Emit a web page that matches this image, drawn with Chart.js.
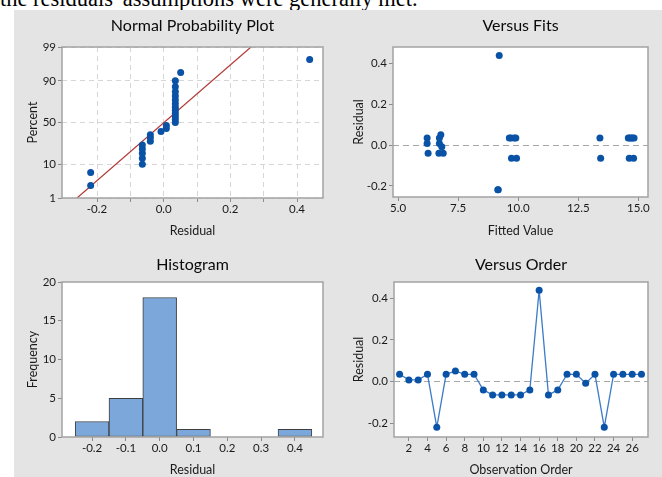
<!DOCTYPE html>
<html>
<head>
<meta charset="utf-8">
<script src="https://cdn.jsdelivr.net/npm/chart.js@4.4.1/dist/chart.umd.min.js"></script>
<style>
  html, body { margin: 0; padding: 0; background: #fff; }
  body { width: 662px; height: 477px; position: relative; overflow: hidden; }
  .caption { position: absolute; left: 0; top: -12px; font: 22.5px/22.5px "Liberation Serif", serif; color: #000; white-space: nowrap; }
  .panel { position: absolute; left: 14px; top: 10px; right: 0; bottom: 0; background: #e4e4e4; }
  canvas { position: absolute; }
</style>
</head>
<body>
<div class="caption">the residuals' assumptions were generally met.</div>
<div class="panel"></div>
<canvas id="npp" width="320" height="234" style="left:14px;top:10px"></canvas>
<canvas id="fits" width="328" height="234" style="left:334px;top:10px"></canvas>
<canvas id="hist" width="320" height="233" style="left:14px;top:244px"></canvas>
<canvas id="order" width="328" height="233" style="left:334px;top:244px"></canvas>
<script>
/* residual plots - four panels, all built from the residuals read per observation */

// residual for each observation, in observation order
const residuals = [0.035, 0.008, 0.008, 0.035, -0.219, 0.035, 0.051, 0.035, 0.035, -0.04,
  -0.064, -0.064, -0.064, -0.064, -0.04, 0.438, -0.064, -0.04, 0.035, 0.035,
  -0.008, 0.035, -0.219, 0.035, 0.035, 0.035, 0.035];
// fitted value for each observation
const fitted = [6.21, 6.21, 6.72, 6.72, 9.15, 9.63, 6.78, 9.70, 9.84, 6.25,
  9.72, 9.93, 13.43, 14.62, 6.70, 9.21, 14.80, 6.88, 9.90, 13.40,
  6.82, 14.58, 9.17, 14.64, 14.70, 14.76, 14.82];
// plotting positions (percent) of the sorted residuals
const nppPercent = [2.6, 6.2, 9.9, 13.5, 17.2, 20.8, 24.5, 28.1, 31.8, 35.4, 39.1, 42.7, 46.4, 50.0,
  53.6, 57.3, 60.9, 64.6, 68.2, 71.9, 75.5, 79.2, 82.8, 86.5, 90.1, 93.8, 97.4];
// normal reference line ends
const fitLineResid = [-0.26, 0.262];
const fitLinePercent = [1, 99];
// histogram bins
const binCenters = [-0.2, -0.1, 0.0, 0.1, 0.2, 0.3, 0.4];
const binCounts = [2, 5, 18, 1, 0, 0, 1];

// ticks
const nppXTicks = [-0.2, -0.1, 0.0, 0.1, 0.2, 0.3, 0.4];
const nppXLabels = ["-0.2", "", "0.0", "", "0.2", "", "0.4"];
const nppYTicks = [1, 10, 50, 90, 99];
const residTicks = [-0.2, 0.0, 0.2, 0.4];
const fitsXTicks = [5, 7.5, 10, 12.5, 15];
const histXTicks = [-0.2, -0.1, 0.0, 0.1, 0.2, 0.3, 0.4];
const histYTicks = [0, 5, 10, 15, 20];
const orderXTicks = [2, 4, 6, 8, 10, 12, 14, 16, 18, 20, 22, 24, 26];

const BLUE = "#0a52a5";
const FONT = "Lato";

Chart.defaults.font.family = FONT;
Chart.defaults.color = "#1a1a1a";
Chart.defaults.animation = false;
Chart.defaults.responsive = false;
Chart.defaults.plugins.legend.display = false;
Chart.defaults.plugins.tooltip.enabled = false;

// inverse normal cdf (Acklam) - used to put percents on the probability axis
function probit(p) {
  const a = [-39.69683028665376, 220.9460984245205, -275.9285104469687, 138.3577518672690, -30.66479806614716, 2.506628277459239];
  const b = [-54.47609879822406, 161.5858368580409, -155.6989798598866, 66.80131188771972, -13.28068155288572];
  const c = [-0.007784894002430293, -0.3223964580411365, -2.400758277161838, -2.549671010229583, 4.374664141464968, 2.938163982698783];
  const d = [0.007784695709041462, 0.3224671290700398, 2.445134137142996, 3.754408661907416];
  const lo = 0.02425;
  if (p < lo || p > 1 - lo) {
    const q = Math.sqrt(-2 * Math.log(p < lo ? p : 1 - p));
    const v = (((((c[0] * q + c[1]) * q + c[2]) * q + c[3]) * q + c[4]) * q + c[5]) / ((((d[0] * q + d[1]) * q + d[2]) * q + d[3]) * q + 1);
    return p < lo ? v : -v;
  }
  const q = p - 0.5, r = q * q;
  return (((((a[0] * r + a[1]) * r + a[2]) * r + a[3]) * r + a[4]) * r + a[5]) * q / (((((b[0] * r + b[1]) * r + b[2]) * r + b[3]) * r + b[4]) * r + 1);
}
const z = (pct) => probit(pct / 100);

// white plot area, grey frame and a centred panel title
const panel = {
  id: "panel",
  beforeDraw(chart) {
    const { ctx, chartArea: a } = chart;
    ctx.save();
    ctx.fillStyle = "#fff";
    ctx.fillRect(a.left, a.top, a.width, a.height);
    ctx.restore();
  },
  afterDraw(chart, args, opts) {
    const { ctx, chartArea: a } = chart;
    ctx.save();
    ctx.strokeStyle = "#a2a2a2";
    ctx.lineWidth = 1.5;
    ctx.strokeRect(a.left, a.top, a.width, a.height);
    ctx.fillStyle = "#0a0a0a";
    ctx.font = "16px " + FONT;
    ctx.textAlign = "center";
    ctx.textBaseline = "middle";
    ctx.fillText(opts.text, (a.left + a.right) / 2, opts.y);
    ctx.restore();
  },
};
Chart.register(panel);

function setTicks(values) {
  return (axis) => { axis.ticks = values.map((v) => ({ value: v })); };
}

function axis(opts) {
  const horiz = opts.horizontal;
  return {
    type: "linear",
    min: opts.min,
    max: opts.max,
    offset: false,
    afterBuildTicks: setTicks(opts.ticks),
    afterFit: (s) => { if (horiz) s.height = opts.size; else s.width = opts.size; },
    border: { display: false, dash: opts.dash || [] },
    grid: {
      offset: false,
      drawOnChartArea: !!opts.gridColor,
      color: opts.gridColor || "transparent",
      lineWidth: 1,
      drawTicks: true,
      tickLength: 4,
      tickColor: "#8a8a8a",
      tickBorderDash: [],
    },
    ticks: {
      autoSkip: false,
      maxRotation: 0,
      padding: horiz ? 0 : 2,
      font: { size: 11.5 },
      color: "#1a1a1a",
      callback: (v, i) => opts.labels[i],
    },
    title: {
      display: true,
      text: opts.title,
      font: { size: 12.5 },
      color: "#1a1a1a",
      padding: opts.titlePad,
    },
  };
}

const fmt1 = (arr) => arr.map((v) => v.toFixed(1));
const zeroLine = (c) => (c.tick && c.tick.value === 0 ? "#a8a8a8" : "transparent");

// --- normal probability plot
const sortedResid = residuals.slice().sort((p, q) => p - q);
new Chart(document.getElementById("npp"), {
  type: "scatter",
  data: {
    datasets: [
      {
        data: sortedResid.map((r, i) => ({ x: r, y: z(nppPercent[i]) })),
        pointRadius: 3.5,
        pointBorderWidth: 0,
        pointBackgroundColor: BLUE,
      },
      {
        type: "line",
        data: fitLineResid.map((r, i) => ({ x: r, y: z(fitLinePercent[i]) })),
        borderColor: "#b23a36",
        borderWidth: 1.2,
        pointRadius: 0,
      },
    ],
  },
  options: {
    layout: { padding: { left: 0, right: 11, top: 37, bottom: 0 } },
    plugins: { panel: { text: "Normal Probability Plot", y: 16 } },
    scales: {
      x: axis({ horizontal: true, min: -0.305, max: 0.478, ticks: nppXTicks, labels: nppXLabels, size: 46,
        gridColor: "#d6d6d6", dash: [5, 4], title: "Residual", titlePad: { top: 0, bottom: 5.5 } }),
      y: axis({ min: z(nppYTicks[0]), max: z(nppYTicks[nppYTicks.length - 1]), ticks: nppYTicks.map(z),
        labels: nppYTicks.map(String), size: 48, gridColor: "#d6d6d6", dash: [5, 4],
        title: "Percent", titlePad: { top: 11.5, bottom: 0 } }),
    },
  },
});

// --- versus fits
new Chart(document.getElementById("fits"), {
  type: "scatter",
  data: {
    datasets: [{
      data: fitted.map((f, i) => ({ x: f, y: residuals[i] })),
      pointRadius: 3.5,
      pointBorderWidth: 0,
      pointBackgroundColor: BLUE,
    }],
  },
  options: {
    layout: { padding: { left: 0, right: 14, top: 37, bottom: 0 } },
    plugins: { panel: { text: "Versus Fits", y: 16 } },
    scales: {
      x: axis({ horizontal: true, min: 4.79, max: 15.4, ticks: fitsXTicks, labels: fmt1(fitsXTicks), size: 47,
        title: "Fitted Value", titlePad: { top: 0, bottom: 5.5 } }),
      y: axis({ min: -0.254, max: 0.48, ticks: residTicks, labels: fmt1(residTicks), size: 59,
        gridColor: zeroLine, dash: [6, 4], title: "Residual", titlePad: { top: 17.5, bottom: 0 } }),
    },
  },
});

// --- histogram
new Chart(document.getElementById("hist"), {
  type: "bar",
  data: {
    datasets: [{
      data: binCenters.map((c, i) => ({ x: c, y: binCounts[i] })),
      backgroundColor: "#7ba7da",
      borderColor: "#3e3e3e",
      borderWidth: 1,
      borderSkipped: false,
      barPercentage: 1,
      categoryPercentage: 1,
    }],
  },
  options: {
    layout: { padding: { left: 0, right: 11, top: 38, bottom: 0 } },
    plugins: { panel: { text: "Histogram", y: 21 } },
    scales: {
      x: axis({ horizontal: true, min: -0.289, max: 0.483, ticks: histXTicks, labels: fmt1(histXTicks), size: 40,
        title: "Residual", titlePad: { top: 0, bottom: 0 } }),
      y: axis({ min: 0, max: 20, ticks: histYTicks, labels: histYTicks.map(String), size: 48,
        title: "Frequency", titlePad: { top: 11.5, bottom: 0 } }),
    },
  },
});

// --- versus order
new Chart(document.getElementById("order"), {
  type: "line",
  data: {
    datasets: [{
      data: residuals.map((r, i) => ({ x: i + 1, y: r })),
      borderColor: "#3d7cc8",
      borderWidth: 1.3,
      pointRadius: 3.5,
      pointBorderWidth: 0,
      pointBackgroundColor: BLUE,
      tension: 0,
    }],
  },
  options: {
    layout: { padding: { left: 0, right: 14, top: 38, bottom: 0 } },
    plugins: { panel: { text: "Versus Order", y: 21 } },
    scales: {
      x: axis({ horizontal: true, min: 0.4, max: 27.7, ticks: orderXTicks, labels: orderXTicks.map(String), size: 40,
        title: "Observation Order", titlePad: { top: 0, bottom: 0 } }),
      y: axis({ min: -0.266, max: 0.478, ticks: residTicks, labels: fmt1(residTicks), size: 60,
        gridColor: zeroLine, dash: [6, 4], title: "Residual", titlePad: { top: 17.5, bottom: 0 } }),
    },
  },
});
</script>
</body>
</html>
